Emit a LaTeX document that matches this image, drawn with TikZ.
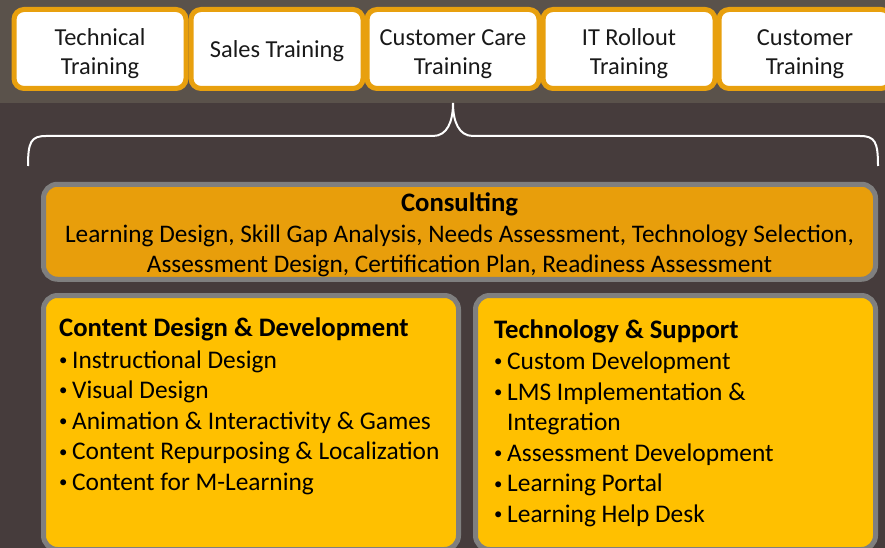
\documentclass[tikz,border=0pt]{standalone}
\usepackage{fontspec}
\setmainfont{Carlito}
\usetikzlibrary{positioning}

\definecolor{bgdark}{HTML}{463C3C}
\definecolor{bandgray}{HTML}{5A524B}
\definecolor{tabborder}{HTML}{E8A00E}
\definecolor{consultfill}{HTML}{E89E0B}
\definecolor{boxyellow}{HTML}{FFC000}
\definecolor{framegray}{HTML}{7F7F7F}

\newcommand{\itm}{\makebox[13pt][l]{\raisebox{0.11em}{\scalebox{0.66}{\textbullet}}}}
\newcommand{\itmskip}{\makebox[13pt][l]{}}
\newcommand{\paneltitle}[1]{{\fontsize{26.7}{30.6}\selectfont\bfseries #1}}
\newcommand{\tabstrut}{\rule{0pt}{25.5pt}}

\tikzset{
  tab/.style={draw=tabborder, line width=5pt, fill=white, rounded corners=10pt,
    minimum width=172pt, minimum height=79pt, inner sep=0pt, align=center,
    font=\fontsize{24.4}{29}\selectfont, text=black!90,
    execute at begin node={\rule{0pt}{21.5pt}}},
  panel/.style={draw=framegray, line width=5pt, rounded corners=14pt, inner sep=0pt},
  paneltext/.style={align=left, anchor=north west, inner sep=0pt,
    font=\fontsize{25.4}{30.6}\selectfont},
}

\begin{document}
\begin{tikzpicture}[x=1pt, y=-1pt]
	%%%%% START %%%%%
	
	\useasboundingbox (0,0) rectangle (885,548);
	\clip (0,0) rectangle (885,548);
	\fill[bgdark] (0,0) rectangle (885,548);
	\fill[bandgray] (0,0) rectangle (885,103);
	
	\node[tab] (technical) at (100,49) {\tabstrut Technical\\Training};
	\node[tab] (sales) at (277,49) {Sales Training};
	\node[tab] (care) at (453,49) {\tabstrut Customer Care\\Training};
	\node[tab] (rollout) at (629,49) {\tabstrut IT Rollout\\Training};
	\node[tab] (customer) at (805,49) {\tabstrut Customer\\Training};
	
	\draw[white, line width=2pt] (28,166) .. controls (28,142) and (31,136) .. (46,136)
		-- (433,136) .. controls (447,136) and (453,122) .. (453,103)
		.. controls (453,122) and (459,136) .. (473,136)
		-- (860,136) .. controls (875,136) and (878,142) .. (878,166);
	
	\node[panel, fill=consultfill, minimum width=832pt, minimum height=95pt,
		align=center, font=\fontsize{25.3}{30.5}\selectfont] (consulting) at (459.5,231.75)
		{\rule{0pt}{25.5pt}\paneltitle{Consulting}\\
		Learning Design, Skill Gap Analysis, Needs Assessment, Technology Selection,\\
		Assessment Design, Certification Plan, Readiness Assessment};
	
	\node[panel, fill=boxyellow, minimum width=415pt, minimum height=254pt] (contentbox) at (251,422.5) {};
	\node[panel, fill=boxyellow, minimum width=400pt, minimum height=254pt] (techbox) at (675.5,422.5) {};
	
	\node[paneltext, below right=24.5pt and 18pt of contentbox.north west] (contenttext)
		{\paneltitle{Content Design \& Development}\\[1pt]
		\itm Instructional Design\\
		\itm Visual Design\\
		\itm Animation \& Interactivity \& Games\\
		\itm Content Repurposing \& Localization\\
		\itm Content for M-Learning};
	
	\node[paneltext, below right=26.5pt and 21pt of techbox.north west] (techtext)
		{\paneltitle{Technology \& Support}\\[0.5pt]
		\itm Custom Development\\
		\itm LMS Implementation \&\\
		\itmskip Integration\\
		\itm Assessment Development\\
		\itm Learning Portal\\
		\itm Learning Help Desk};
	
	%%%%% END %%%%%
\end{tikzpicture}
\end{document}
